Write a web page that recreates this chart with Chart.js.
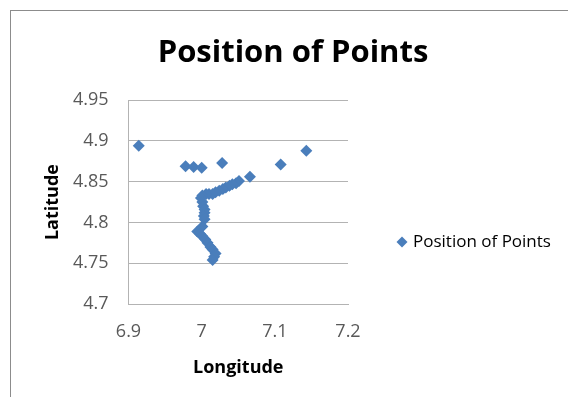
<!DOCTYPE html>
<html>
<head>
<meta charset="utf-8">
<script src="https://cdn.jsdelivr.net/npm/chart.js@4"></script>
<style>
  html, body { margin: 0; padding: 0; background: #fff; }
  #wrap { position: relative; width: 568px; height: 397px; overflow: hidden; }
  #frame { position: absolute; left: 10px; top: 10px; width: 600px; height: 420px; border: 1px solid #8c8c8c; }
  canvas { position: absolute; left: 0; top: 0; }
</style>
</head>
<body>
<div id="wrap">
  <div id="frame"></div>
  <canvas id="pointsChart" width="568" height="397"></canvas>
</div>
<script>
// Position of points (longitude / latitude)
const longitudes = [6.914, 6.978, 6.989, 7.000, 7.028, 7.066, 7.108, 7.143,
    7.051, 7.047, 7.042, 7.038, 7.033, 7.029, 7.024, 7.019, 7.015, 7.010, 7.006, 7.001, 6.999,
    7.001, 7.002, 7.004, 7.004, 7.003, 7.004, 7.001, 6.994, 6.998, 7.001, 7.005, 7.008, 7.012,
    7.015, 7.019, 7.017, 7.015];
const latitudes = [4.894, 4.869, 4.868, 4.867, 4.873, 4.856, 4.871, 4.888,
    4.851, 4.848, 4.847, 4.845, 4.843, 4.841, 4.839, 4.837, 4.835, 4.835, 4.835, 4.833, 4.830,
    4.825, 4.820, 4.816, 4.812, 4.808, 4.804, 4.795, 4.789, 4.786, 4.783, 4.779, 4.775, 4.770,
    4.767, 4.762, 4.758, 4.754];
const xTicks = [6.9, 7, 7.1, 7.2];
const yTicks = [4.7, 4.75, 4.8, 4.85, 4.9, 4.95];

const seriesName = 'Position of Points';
const fontFamily = '"Open Sans", "Liberation Sans", sans-serif';

// legend drawn by hand: the built-in one can't get wide enough next to the y axis
const sideLegend = {
    id: 'sideLegend',
    afterDraw(chart) {
        const ds = chart.data.datasets[0];
        const c = chart.ctx;
        const cx = 402, cy = 242, r = 5.5;
        c.save();
        c.fillStyle = ds.backgroundColor;
        c.beginPath();
        c.moveTo(cx, cy - r);
        c.lineTo(cx + r, cy);
        c.lineTo(cx, cy + r);
        c.lineTo(cx - r, cy);
        c.closePath();
        c.fill();
        c.fillStyle = '#000';
        c.font = '17px ' + fontFamily;
        c.textBaseline = 'middle';
        c.fillText(ds.label, 413, cy);
        c.restore();
    }
};

document.addEventListener('DOMContentLoaded', function() {
    initChart();
});

function initChart() {
    const ctx = document.getElementById('pointsChart');
    const points = longitudes.map((x, i) => ({ x: x, y: latitudes[i] }));

    new Chart(ctx, {
        type: 'scatter',
        data: {
            datasets: [{
                label: seriesName,
                data: points,
                pointStyle: 'rectRot',
                pointRadius: 6,
                pointHoverRadius: 6,
                backgroundColor: '#4a7ebb',
                borderColor: '#4a7ebb',
                borderWidth: 0
            }]
        },
        plugins: [sideLegend],
        options: {
            responsive: false,
            animation: false,
            layout: {
                padding: { left: 18, right: 0, top: 0, bottom: 0 }
            },
            plugins: {
                tooltip: { enabled: false },
                legend: { display: false },
                title: {
                    display: true,
                    text: 'Position of Points',
                    color: '#000',
                    font: { family: fontFamily, size: 31, weight: 'bold' },
                    padding: { top: 35, bottom: 28 }
                }
            },
            scales: {
                x: {
                    type: 'linear',
                    min: xTicks[0],
                    max: xTicks[xTicks.length - 1],
                    afterBuildTicks: function(axis) {
                        axis.ticks = xTicks.map(v => ({ value: v }));
                    },
                    afterFit: function(axis) { axis.height = 93; },
                    grid: { display: false, drawTicks: false },
                    border: { display: true, color: '#b3b3b3' },
                    ticks: {
                        padding: 17,
                        color: '#595959',
                        font: { family: fontFamily, size: 18 },
                        callback: v => String(v)
                    },
                    title: {
                        display: true,
                        text: 'Longitude',
                        color: '#000',
                        font: { family: fontFamily, size: 18, weight: 'bold' },
                        padding: { top: 6, bottom: 18 }
                    }
                },
                y: {
                    type: 'linear',
                    min: yTicks[0],
                    max: yTicks[yTicks.length - 1],
                    afterBuildTicks: function(axis) {
                        axis.ticks = yTicks.map(v => ({ value: v }));
                    },
                    afterFit: function(axis) { axis.width = 110.5; },
                    grid: { color: '#b3b3b3', drawTicks: false },
                    border: { display: true, color: '#b3b3b3' },
                    ticks: {
                        padding: 20,
                        color: '#595959',
                        font: { family: fontFamily, size: 18 },
                        callback: v => String(v)
                    },
                    title: {
                        display: true,
                        text: 'Latitude',
                        color: '#000',
                        font: { family: fontFamily, size: 18, weight: 'bold' },
                        padding: { top: 24, bottom: 6 }
                    }
                },
                // empty right-hand axis: holds the space where the legend sits
                legendSpace: {
                    type: 'linear',
                    position: 'right',
                    min: 0,
                    max: 1,
                    afterFit: function(axis) { axis.width = 220; },
                    grid: { display: false, drawTicks: false },
                    border: { display: false },
                    ticks: { display: false }
                }
            }
        }
    });
}
</script>
</body>
</html>
